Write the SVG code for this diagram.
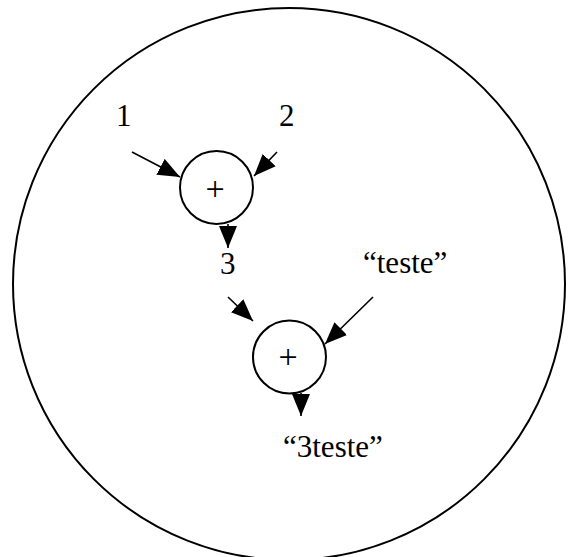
<svg xmlns="http://www.w3.org/2000/svg" width="571" height="557" viewBox="0 0 571 557">
<style>
.ln{stroke:#000;stroke-width:1.6;fill:none}
.nd{stroke:#000;stroke-width:2;fill:#fff}
.t{font-family:"Liberation Serif","Times New Roman",serif;font-size:31px;fill:#000}
.p{font-family:"Liberation Serif","Times New Roman",serif;font-size:34px;fill:#000;text-anchor:middle}
</style>
<defs>
<marker id="ah" markerUnits="userSpaceOnUse" markerWidth="22" markerHeight="18" refX="22" refY="9" orient="auto">
<path d="M0,0 L22,9 L0,18 z" fill="#000"/>
</marker>
</defs>
<ellipse id="outer" cx="289" cy="284" rx="276" ry="276" fill="none" stroke="#000" stroke-width="2"/>
<g id="labels">
<text class="t" x="116" y="126">1</text>
<text class="t" x="279" y="126">2</text>
<text class="t" x="220" y="274">3</text>
<text class="t" x="363" y="273">“teste”</text>
<text class="t" x="283" y="457">“3teste”</text>
</g>
<g id="plus1">
<circle class="nd" cx="216.5" cy="187.5" r="36.5"/>
<text class="p" x="215" y="200">+</text>
</g>
<g id="plus2">
<circle class="nd" cx="289.5" cy="357" r="36.5"/>
<text class="p" x="288" y="368">+</text>
</g>
<g id="connectors">
<line class="ln" x1="132" y1="152" x2="180" y2="177" marker-end="url(#ah)"/>
<line class="ln" x1="277" y1="152" x2="254" y2="176" marker-end="url(#ah)"/>
<line class="ln" x1="228" y1="224" x2="228" y2="248" marker-end="url(#ah)"/>
<line class="ln" x1="228" y1="297" x2="253" y2="321" marker-end="url(#ah)"/>
<line class="ln" x1="373" y1="297" x2="325" y2="344" marker-end="url(#ah)"/>
<line class="ln" x1="301" y1="393" x2="301" y2="416" marker-end="url(#ah)"/>
</g>
</svg>
